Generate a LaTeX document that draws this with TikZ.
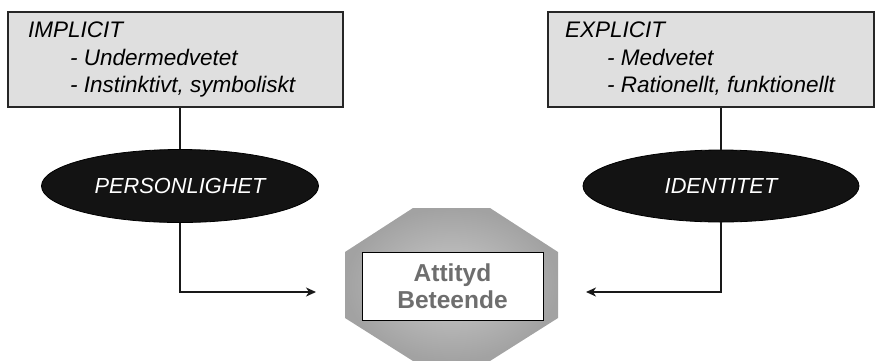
\documentclass[tikz,border=0pt]{standalone}
\usepackage{fontspec}
\setmainfont{Liberation Sans}
\usetikzlibrary{shapes.geometric,arrows.meta}
\definecolor{boxgray}{HTML}{DFDFDF}
\definecolor{ellblack}{HTML}{131313}
\definecolor{coretext}{HTML}{6E6E6E}
\definecolor{octin}{HTML}{CACACA}
\definecolor{octout}{HTML}{A2A2A2}
\tikzset{
  infobox/.style={draw=black!85, line width=1.5pt, fill=boxgray, rectangle, inner sep=0pt},
  boxtext/.style={anchor=base west, inner sep=0pt, font=\itshape\fontsize{22.5}{27}\selectfont},
  persona/.style={ellipse, draw=black, line width=0.8pt, fill=ellblack, inner sep=0pt,
     text=white, font=\itshape\fontsize{21.8}{26}\selectfont},
  coreframe/.style={draw=black, line width=1pt, fill=white, rectangle, inner sep=0pt,
     align=center, text=coretext, font=\bfseries\fontsize{24.5}{26.5}\selectfont},
  link/.style={draw=black!90, line width=2pt},
  arrowlink/.style={link, -{Stealth[length=10pt,width=9pt,inset=3pt]}}
}
\begin{document}
\begin{tikzpicture}[x=1pt,y=1pt]
\useasboundingbox (0,0) rectangle (876,-360);
% boxes
\node[infobox, minimum width=335pt, minimum height=95pt] (boxL) at (175.5,-59.5) {};
\node[infobox, minimum width=326pt, minimum height=95pt] (boxR) at (711,-59.5) {};
\node[boxtext] (tL1) at (28,-37) {IMPLICIT};
\node[boxtext] (tL2) at (70,-65) {- Undermedvetet};
\node[boxtext] (tL3) at (70,-92.5) {- Instinktivt, symboliskt};
\node[boxtext] (tR1) at (565,-37) {EXPLICIT};
\node[boxtext] (tR2) at (607,-65) {- Medvetet};
\node[boxtext] (tR3) at (607,-92.5) {- Rationellt, funktionellt};
% ellipses
\node[persona, minimum width=277pt, minimum height=73pt] (ellL) at (180,-186) {PERSONLIGHET};
\node[persona, minimum width=276pt, minimum height=72pt] (ellR) at (721,-186) {IDENTITET};
% octagon
\shade[inner color=octin, outer color=octout]
  (413,-208) -- (490,-208) -- (558,-252) -- (558,-318) -- (490,-361) -- (413,-361)
  -- (345,-318) -- (345,-252) -- cycle;
\node[coreframe, minimum width=181pt, minimum height=68pt] (core) at (452.5,-286) {Attityd\\Beteende};
% connectors
\coordinate (endL) at (316,-292);
\coordinate (endR) at (586,-292);
\draw[link] (ellL.north |- boxL.south) -- (ellL.north);
\draw[link] (ellR.north |- boxR.south) -- (ellR.north);
\draw[arrowlink] (ellL.south) |- (endL);
\draw[arrowlink] (ellR.south) |- (endR);
\end{tikzpicture}
\end{document}
